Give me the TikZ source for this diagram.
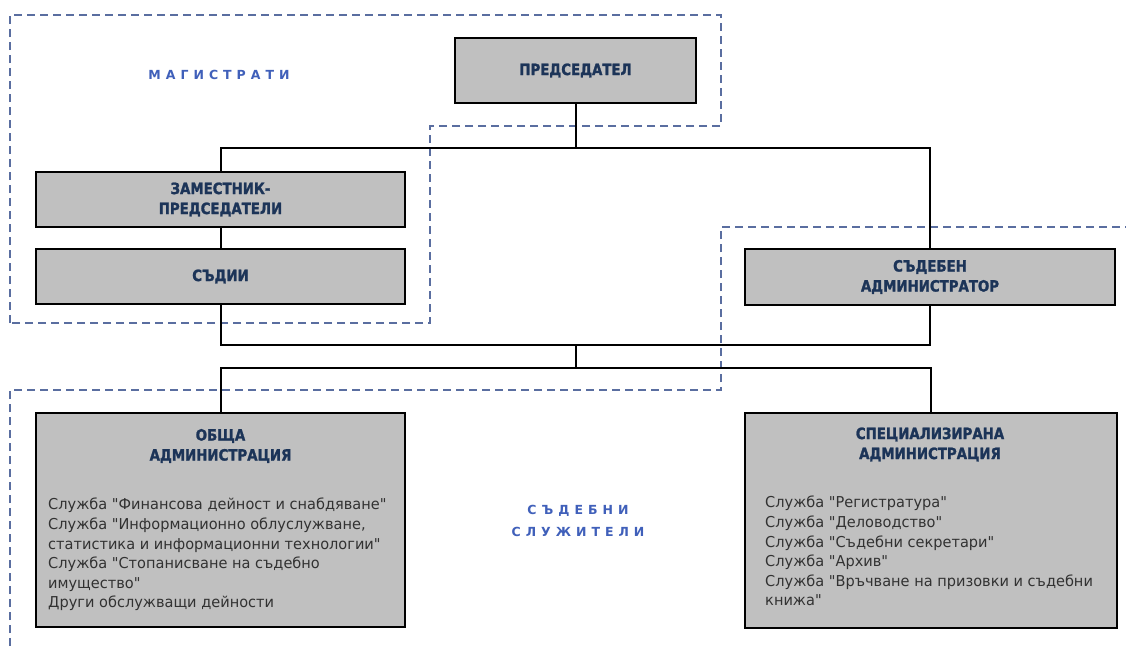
\documentclass[tikz,border=0pt]{standalone}
\usepackage{fontspec}
\setmainfont{DejaVu Sans}[Ligatures=TeXOff]
\newfontfamily\titlefont[FakeStretch=0.86,FakeBold=1.5,Ligatures=TeXOff]{DejaVu Sans}
\newfontfamily\bodyfont[FakeStretch=0.97,Ligatures=TeXOff]{DejaVu Sans}
\newfontfamily\spacedfont[LetterSpace=40]{DejaVu Sans}
\definecolor{boxgray}{RGB}{192,192,192}
\definecolor{titleblue}{RGB}{28,52,88}
\definecolor{labelblue}{RGB}{64,96,186}
\definecolor{dashblue}{RGB}{90,110,160}
\definecolor{bodygray}{RGB}{50,50,50}
\begin{document}
\begin{tikzpicture}[x=1pt,y=-1pt,
  orgbox/.style={draw=black,line width=2pt,fill=boxgray,rectangle,inner sep=0pt},
  titletext/.style={font=\titlefont\bfseries\fontsize{15.5}{20}\selectfont,text=titleblue,align=center,inner sep=0pt},
  bodytext/.style={font=\bodyfont\fontsize{15}{19.6}\selectfont,text=bodygray,align=left,inner sep=0pt,anchor=north west},
  grouplabel/.style={font=\spacedfont\bfseries\fontsize{12.5}{22}\selectfont,text=labelblue,align=center,inner sep=0pt},
  link/.style={draw=black,line width=2pt},
  region/.style={draw=dashblue,line width=1.8pt,dash pattern=on 8pt off 5pt}]
\useasboundingbox (0,0) rectangle (1126,646);
\fill[white] (0,0) rectangle (1126,646);

% dashed regions
\draw[region] (10,323) -- (10,15) -- (721,15) -- (721,126) -- (430,126) -- (430,323) -- cycle;
\draw[region] (10,646) -- (10,390) -- (721,390) -- (721,227) -- (1126,227);

% boxes
\node[orgbox,minimum width=241pt,minimum height=65pt] (pres) at (575.5,70.5) {};
\node[titletext] (presT) at (pres.center) {ПРЕДСЕДАТЕЛ};
\node[orgbox,minimum width=369pt,minimum height=55pt] (zam) at (220.5,199.5) {};
\node[titletext] (zamT) at (zam.center) {ЗАМЕСТНИК-\\ПРЕДСЕДАТЕЛИ};
\node[orgbox,minimum width=369pt,minimum height=55pt] (sud) at (220.5,276.5) {};
\node[titletext] (sudT) at (sud.center) {СЪДИИ};
\node[orgbox,minimum width=370pt,minimum height=56pt] (adm) at (930,277) {};
\node[titletext] (admT) at (adm.center) {СЪДЕБЕН\\АДМИНИСТРАТОР};

\node[orgbox,minimum width=369pt,minimum height=214pt] (obs) at (220.5,520) {};
\node[titletext] (obsT) at (220.5,446) {ОБЩА\\АДМИНИСТРАЦИЯ};
\node[bodytext] (obsB) at (48,498) {Служба "Финансова дейност и снабдяване"\\Служба "Информационно облуслужване,\\статистика и информационни технологии"\\Служба "Стопанисване на съдебно\\имущество"\\Други обслужващи дейности};

\node[orgbox,minimum width=372pt,minimum height=215pt] (spe) at (931,520.5) {};
\node[titletext] (speT) at (930,444.5) {СПЕЦИАЛИЗИРАНА\\АДМИНИСТРАЦИЯ};
\node[bodytext] (speB) at (765,496) {Служба "Регистратура"\\Служба "Деловодство"\\Служба "Съдебни секретари"\\Служба "Архив"\\Служба "Връчване на призовки и съдебни\\книжа"};

% group labels
\node[grouplabel] (magL) at (219,75) {МАГИСТРАТИ};
\node[grouplabel] (sluL) at (578,521) {СЪДЕБНИ\\СЛУЖИТЕЛИ};

% connectors
\coordinate (j1) at (575.5,148);
\coordinate (j2) at (575.5,345);
\coordinate (j3) at (575.5,368);
\draw[link] (pres.south) -- (j1);
\draw[link] (zam.north) |- (j1) -| (adm.north);
\draw[link] (zam.south) -- (sud.north);
\draw[link] (sud.south) |- (j2) -| (adm.south);
\draw[link] (j2) -- (j3);
\draw[link] (obs.north) |- (j3) -| (spe.north);
\end{tikzpicture}
\end{document}
